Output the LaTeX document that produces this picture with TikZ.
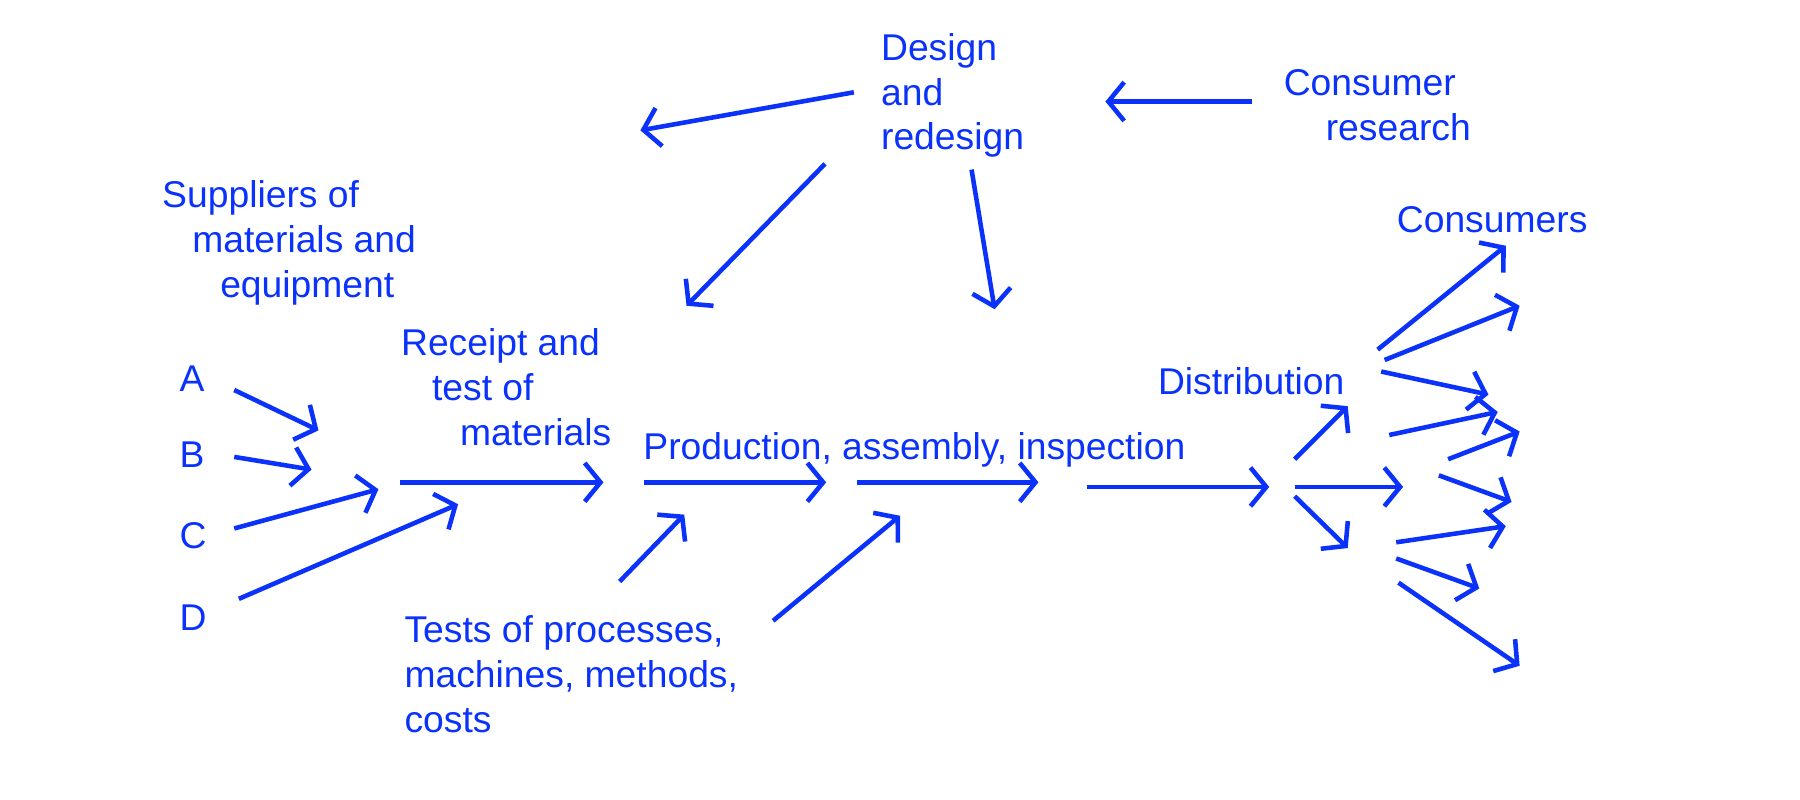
\documentclass[tikz,border=0pt]{standalone}
\usepackage{fontspec}
\setmainfont{Liberation Sans}
\usetikzlibrary{arrows.meta}
\definecolor{ink}{RGB}{10,50,250}
\begin{document}
\begin{tikzpicture}[x=0.011538cm, y=-0.011538cm,
		lbl/.style={text=ink, align=left, anchor=north west, inner sep=0pt,
			font=\fontsize{10.6}{12.8}\selectfont},
		flow/.style={draw=ink, line width=1.3pt,
			-{Straight Barb[length=4.5pt, width=11pt, line width=1.3pt]}}]
	\useasboundingbox (0,0) rectangle (1560,693);
	% text blocks
	\node[lbl] (design) at (763,28) {Design\\and\\redesign};
	\node[lbl] (research) at (1112,60) {Consumer\\\hspace*{0.42cm}research};
	\node[lbl] (suppliers) at (140,156) {Suppliers of\\\hspace*{0.3cm}materials and\\\hspace*{0.58cm}equipment};
	\node[lbl] (receipt) at (347,284) {Receipt and\\\hspace*{0.31cm}test of\\\hspace*{0.59cm}materials};
	\node[lbl] (production) at (557,374) {Production, assembly, inspection};
	\node[lbl] (distribution) at (1003,318) {Distribution};
	\node[lbl] (consumers) at (1210,178) {Consumers};
	\node[lbl] (tests) at (350,533) {Tests of processes,\\machines, methods,\\costs};
	% supplier letters
	\foreach \letter/\ypos in {A/328, B/394, C/464, D/535}
	{
		\node[lbl, anchor=west] (sup_\letter) at (155,\ypos) {\letter};
	}
	% flows: tail x/y, tip x/y
	\def\flows {740/80/555/113, 1085/88/958/88,
		715/142/595/265, 842/147/862/268,
		203/338/276/373, 203/396/270/407,
		203/458/328/424, 207/519/397/437,
		347/418/523/418, 558/418/716/418,
		743/418/900/418, 942/422/1100/422,
		537/504/593/446, 670/538/780/447,
		1122/398/1168/352, 1122/422/1216/422,
		1122/430/1168/475,
		1194/303/1305/213, 1200/312/1317/265,
		1197/322/1290/342, 1204/377/1298/357,
		1255/398/1317/374, 1247/412/1310/435,
		1210/470/1305/456, 1210/484/1282/510,
		1212/505/1317/577}
	\foreach \ax/\ay/\bx/\by [count=\index] in \flows
	{
		\coordinate (s_\index) at (\ax,\ay);
		\coordinate (e_\index) at (\bx,\by);
		\draw[flow] (s_\index) -- (e_\index);
	}
\end{tikzpicture}
\end{document}
